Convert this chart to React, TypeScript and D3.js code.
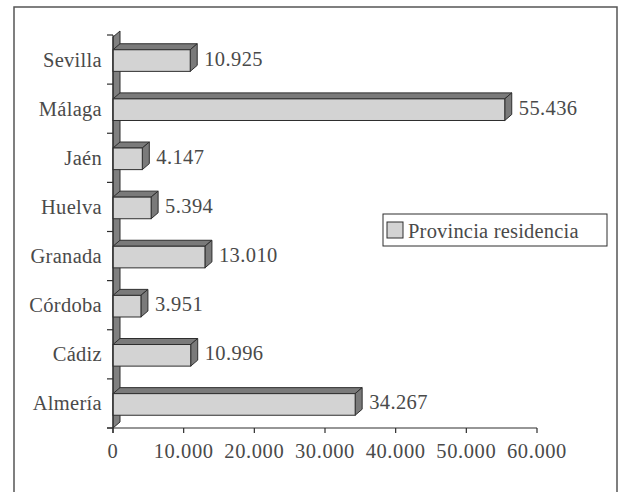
import { useRef, useEffect } from 'react';
import * as d3 from 'd3';

const categories = ['Sevilla', 'Málaga', 'Jaén', 'Huelva', 'Granada', 'Córdoba', 'Cádiz', 'Almería'];
const values = [10925, 55436, 4147, 5394, 13010, 3951, 10996, 34267];
const xTicks = [0, 10000, 20000, 30000, 40000, 50000, 60000];
const seriesName = 'Provincia residencia';

const W = 621;
const H = 492;
const FONT = '"Liberation Serif", "Times New Roman", serif';
const TEXT = '#4a4a4a';
const FRONT = '#d3d3d3';
const DARK = '#7a7a7a';
const STROKE = '#2e2e2e';
const FS = 20.5;

const locale = d3.formatLocale({ decimal: ',', thousands: '.', grouping: [3], currency: ['', ''] });
const fmt = locale.format(',d');

export default function App() {
  const svgRef = useRef<SVGSVGElement>(null);

  useEffect(() => {
    if (!svgRef.current) return;
    const svg = d3.select(svgRef.current);
    svg.selectAll('*').remove();

    const left = 113;
    const right = 537;
    const top = 35;
    const bottom = 428;
    const dx = 7;
    const dy = -6;

    const x = d3.scaleLinear().domain([0, 60000]).range([left, right]);
    const y = d3.scaleBand<string>().domain(categories).range([top, bottom]).paddingInner(0.56).paddingOuter(0.28);

    // outer frame
    svg.append('rect')
      .attr('x', 14).attr('y', 7).attr('width', 603).attr('height', 500)
      .attr('fill', '#fff').attr('stroke', '#555').attr('stroke-width', 1.5);

    // back wall (3D)
    svg.append('path')
      .attr('d', `M${left},${bottom} L${left + dx},${bottom + dy} L${left + dx},${top + dy + 2} L${left},${top + 2} Z`)
      .attr('fill', '#808080').attr('stroke', STROKE).attr('stroke-width', 1);

    // bars
    const g = svg.append('g');
    categories.forEach((c, i) => {
      const v = values[i];
      const y0 = y(c)! + 1;
      const h = y.bandwidth();
      const x0 = x(0);
      const x1 = x(v);
      // top face
      g.append('path')
        .attr('d', `M${x0},${y0} L${x0 + dx},${y0 + dy} L${x1 + dx},${y0 + dy} L${x1},${y0} Z`)
        .attr('fill', DARK).attr('stroke', STROKE).attr('stroke-width', 1);
      // side face
      g.append('path')
        .attr('d', `M${x1},${y0} L${x1 + dx},${y0 + dy} L${x1 + dx},${y0 + h + dy} L${x1},${y0 + h} Z`)
        .attr('fill', DARK).attr('stroke', STROKE).attr('stroke-width', 1);
      // front face
      g.append('rect')
        .attr('x', x0).attr('y', y0).attr('width', x1 - x0).attr('height', h)
        .attr('fill', FRONT).attr('stroke', STROKE).attr('stroke-width', 1);
      // value label
      g.append('text')
        .attr('x', x1 + dx + 7)
        .attr('y', y0 + h / 2 - 2)
        .attr('dominant-baseline', 'central')
        .attr('font-family', FONT).attr('font-size', FS).attr('fill', TEXT)
        .attr('letter-spacing', 0.4)
        .text(fmt(v));
      // category label
      g.append('text')
        .attr('x', 102)
        .attr('y', y(c)! - y.step() * y.paddingInner() / 2 + y.step() / 2)
        .attr('text-anchor', 'end')
        .attr('dominant-baseline', 'central')
        .attr('font-family', FONT).attr('font-size', FS).attr('fill', TEXT)
        .attr('letter-spacing', 0.3)
        .text(c);
    });

    // y axis + ticks
    svg.append('line')
      .attr('x1', left).attr('x2', left).attr('y1', top).attr('y2', bottom + 5)
      .attr('stroke', STROKE).attr('stroke-width', 1.2);
    const boundaries = d3.range(categories.length + 1).map((i) => top + i * y.step());
    boundaries.forEach((b) => {
      svg.append('line')
        .attr('x1', left - 6).attr('x2', left).attr('y1', b).attr('y2', b)
        .attr('stroke', STROKE).attr('stroke-width', 1.2);
    });

    // x axis
    svg.append('line')
      .attr('x1', left - 6).attr('x2', right).attr('y1', bottom).attr('y2', bottom)
      .attr('stroke', STROKE).attr('stroke-width', 1.2);
    xTicks.forEach((t) => {
      svg.append('line')
        .attr('x1', x(t)).attr('x2', x(t)).attr('y1', bottom).attr('y2', bottom + 5)
        .attr('stroke', STROKE).attr('stroke-width', 1.2);
      svg.append('text')
        .attr('x', x(t)).attr('y', 458)
        .attr('text-anchor', 'middle')
        .attr('font-family', FONT).attr('font-size', FS).attr('fill', TEXT)
        .attr('letter-spacing', 0.6)
        .text(fmt(t));
    });

    // legend
    svg.append('rect')
      .attr('x', 383).attr('y', 214).attr('width', 224).attr('height', 32)
      .attr('fill', '#fff').attr('stroke', STROKE).attr('stroke-width', 1);
    svg.append('rect')
      .attr('x', 387).attr('y', 222).attr('width', 16).attr('height', 16)
      .attr('fill', FRONT).attr('stroke', STROKE).attr('stroke-width', 1);
    svg.append('text')
      .attr('x', 408).attr('y', 238)
      .attr('font-family', FONT).attr('font-size', FS).attr('fill', TEXT)
      .attr('letter-spacing', 0.2)
      .text(seriesName);
  }, []);

  return (
    <svg
      ref={svgRef}
      width={W}
      height={H}
      style={{ position: 'absolute', left: 0, top: 0, background: '#fff' }}
    />
  );
}
